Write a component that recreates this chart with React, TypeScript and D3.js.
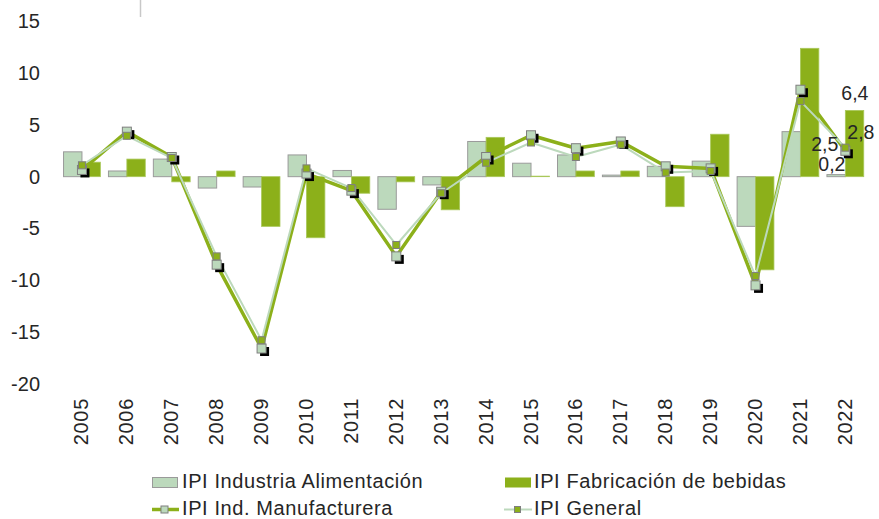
import React from "react";
import * as d3 from "d3";

const years = ["2005","2006","2007","2008","2009","2010","2011","2012","2013","2014","2015","2016","2017","2018","2019","2020","2021","2022"];
const alimentacion = [2.4, 0.55, 1.7, -1.1, -1.0, 2.1, 0.6, -3.15, -0.8, 3.4, 1.3, 2.1, 0.15, 1.0, 1.5, -4.8, 4.35, 0.2];
const bebidas = [1.4, 1.7, -0.5, 0.55, -4.8, -5.9, -1.6, -0.5, -3.2, 3.8, 0.05, 0.55, 0.55, -2.9, 4.1, -9.0, 12.4, 6.4];
const manufacturera = [0.65, 4.35, 1.9, -8.5, -16.6, 0.3, -1.35, -7.7, -1.45, 1.9, 4.0, 2.75, 3.4, 1.0, 0.8, -10.5, 8.4, 2.5];
const general = [1.1, 3.95, 1.8, -7.7, -15.8, 0.8, -1.1, -6.6, -1.6, 1.35, 3.3, 1.9, 3.1, 0.4, 0.55, -9.6, 7.3, 2.8];
const yTicks = [15, 10, 5, 0, -5, -10, -15, -20];
const seriesNames = ["IPI Industria Alimentación", "IPI Fabricación de bebidas", "IPI Ind. Manufacturera", "IPI General"];
const lastLabels = { alimentacion: "0,2", bebidas: "6,4", manufacturera: "2,5", general: "2,8" };

const LIGHT = "#bcd9bc";
const GREEN = "#8cb01a";
const TEXT = "#262626";
const FONT = "'Liberation Sans', Arial, sans-serif";

export default function App() {
  const W = 879, H = 519;
  const y = d3.scaleLinear().domain([-20, 15]).range([383.7, 21.4]);
  const x0 = d3.scaleBand<string>().domain(years).range([59.5, 867.8]).paddingInner(0.18).paddingOuter(0.09);
  const x1 = d3.scaleBand<string>().domain(["a", "b"]).range([0, x0.bandwidth()]);
  const cx = (yr: string) => (x0(yr) as number) + x0.bandwidth() / 2;

  const line = d3.line<number>().x((_, i) => cx(years[i])).y((d) => y(d));
  const manufPath = line(manufacturera) || "";
  const generalPath = line(general) || "";

  const barRect = (v: number) => ({ yy: Math.min(y(v), y(0)), h: Math.abs(y(v) - y(0)) });
  const last = years[years.length - 1];
  const lc = cx(last);
  const li = years.length - 1;

  return (
    <svg width={W} height={H} style={{ position: "absolute", left: 0, top: 0 }} fontFamily={FONT}>
      <rect width={W} height={H} fill="#fff" />
      <line x1={140.5} x2={140.5} y1={0} y2={17} stroke="#c8c8c8" strokeWidth={1.5} />
      {/* y tick labels */}
      {yTicks.map((t) => (
        <text key={t} x={40} y={y(t)} textAnchor="end" dominantBaseline="central" fontSize={20} fill={TEXT}>{t}</text>
      ))}
      {/* bars */}
      {years.map((yr, i) => {
        const a = barRect(alimentacion[i]);
        const b = barRect(bebidas[i]);
        const bx = x0(yr) as number;
        return (
          <g key={yr}>
            <rect x={bx + (x1("a") as number)} y={a.yy} width={x1.bandwidth()} height={Math.max(a.h, 0.5)} fill={LIGHT} stroke="#9a9a9a" strokeWidth={1} />
            <rect x={bx + (x1("b") as number)} y={b.yy} width={x1.bandwidth()} height={Math.max(b.h, 0.5)} fill={GREEN} stroke="#a9c85a" strokeWidth={0.8} />
          </g>
        );
      })}
      {/* lines */}
      <path d={manufPath} fill="none" stroke={GREEN} strokeWidth={3.5} strokeLinejoin="round" />
      <path d={generalPath} fill="none" stroke={LIGHT} strokeWidth={2} strokeLinejoin="round" />
      {/* manufacturera markers with shadows */}
      {manufacturera.map((v, i) => (
        <g key={"m" + i}>
          <rect x={cx(years[i]) - 4.5 + 3} y={y(v) - 4.5 + 3} width={9} height={9} fill="#000" />
          <rect x={cx(years[i]) - 4.5} y={y(v) - 4.5} width={9} height={9} fill={LIGHT} stroke="#7f7f7f" strokeWidth={1} />
        </g>
      ))}
      {/* general markers */}
      {general.map((v, i) => (
        <rect key={"g" + i} x={cx(years[i]) - 3.5} y={y(v) - 3.5} width={7} height={7} fill={GREEN} stroke="#7f7f7f" strokeWidth={1} />
      ))}
      {/* x labels */}
      {years.map((yr) => (
        <text key={"x" + yr} transform={`translate(${cx(yr) + 6.5},398) rotate(-90)`} textAnchor="end" fontSize={20} letterSpacing={0.7} fill={TEXT}>{yr}</text>
      ))}
      {/* data labels for last year */}
      <text x={lc + 9.5} y={y(bebidas[li]) - 10.5} textAnchor="middle" fontSize={19.5} fill={TEXT}>{lastLabels.bebidas}</text>
      <text x={lc + 2} y={y(general[li]) - 9} textAnchor="start" fontSize={19.5} fill={TEXT}>{lastLabels.general}</text>
      <text x={lc - 7} y={y(manufacturera[li])} textAnchor="end" fontSize={19.5} fill={TEXT}>{lastLabels.manufacturera}</text>
      <text x={lc - 13.5} y={y(alimentacion[li]) - 4} textAnchor="middle" fontSize={19.5} fill={TEXT}>{lastLabels.alimentacion}</text>
      {/* legend */}
      <g fontSize={20} fill={TEXT} letterSpacing={0.6}>
        <rect x={152.5} y={477.5} width={25} height={10} fill={LIGHT} stroke="#9a9a9a" strokeWidth={1} />
        <text x={182} y={487.5}>{seriesNames[0]}</text>
        <rect x={505} y={477.5} width={26} height={10} fill={GREEN} />
        <text x={534} y={487.5}>{seriesNames[1]}</text>
        <line x1={152} x2={179} y1={509.5} y2={509.5} stroke={GREEN} strokeWidth={3.5} />
        <rect x={161} y={506} width={7} height={7} fill={LIGHT} stroke="#7f7f7f" strokeWidth={1} />
        <text x={182} y={515}>{seriesNames[2]}</text>
        <line x1={504} x2={532} y1={509.5} y2={509.5} stroke={LIGHT} strokeWidth={2} />
        <rect x={514.5} y={506.5} width={6} height={6} fill={GREEN} stroke="#7f7f7f" strokeWidth={1} />
        <text x={534} y={515}>{seriesNames[3]}</text>
      </g>
    </svg>
  );
}
